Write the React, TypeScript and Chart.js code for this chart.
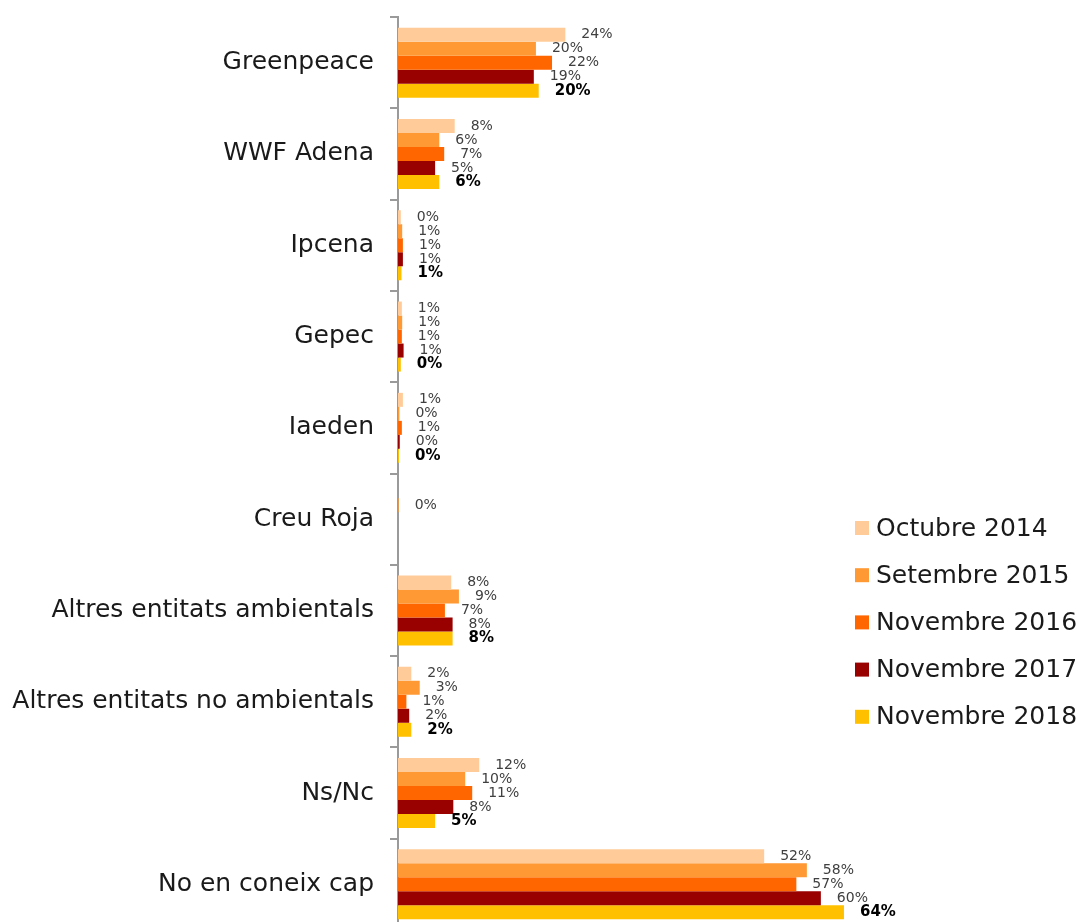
import React, { useEffect, useRef } from "react";
import { Chart, registerables } from "chart.js";

Chart.register(...registerables);

const categories = [
  "Greenpeace",
  "WWF Adena",
  "Ipcena",
  "Gepec",
  "Iaeden",
  "Creu Roja",
  "Altres entitats ambientals",
  "Altres entitats no ambientals",
  "Ns/Nc",
  "No en coneix cap",
];

const seriesNames = [
  "Octubre 2014",
  "Setembre 2015",
  "Novembre 2016",
  "Novembre 2017",
  "Novembre 2018",
];

const seriesColors = ["#FFCC99", "#FF9933", "#FF6600", "#990000", "#FFC000"];

const oct2014 = [23.9, 8.1, 0.4, 0.55, 0.7, null, 7.6, 1.9, 11.6, 52.3];
const set2015 = [19.7, 5.9, 0.6, 0.6, 0.2, 0.1, 8.7, 3.1, 9.6, 58.4];
const nov2016 = [22.0, 6.6, 0.7, 0.55, 0.55, null, 6.7, 1.2, 10.6, 56.9];
const nov2017 = [19.4, 5.3, 0.7, 0.8, 0.25, null, 7.8, 1.6, 7.9, 60.4];
const nov2018 = [20.1, 5.9, 0.5, 0.4, 0.15, null, 7.8, 1.9, 5.3, 63.7];

const seriesValues = [oct2014, set2015, nov2016, nov2017, nov2018];

const FONT = "'DejaVu Sans', sans-serif";

const valueLabels = {
  id: "valueLabels",
  afterDatasetsDraw(chart: any) {
    const ctx = chart.ctx;
    ctx.save();
    ctx.textAlign = "left";
    ctx.textBaseline = "middle";
    chart.data.datasets.forEach((ds: any, di: number) => {
      const meta = chart.getDatasetMeta(di);
      const last = di === chart.data.datasets.length - 1;
      ctx.font = (last ? "bold 15px " : "14px ") + FONT;
      ctx.fillStyle = last ? "#000000" : "#404040";
      meta.data.forEach((el: any, i: number) => {
        const v = ds.data[i];
        if (v === null || v === undefined) return;
        ctx.fillText(Math.round(v) + "%", el.x + 16, el.y);
      });
    });
    ctx.restore();
  },
};

const sideLegend = {
  id: "sideLegend",
  afterDraw(chart: any) {
    const ctx = chart.ctx;
    ctx.save();
    ctx.textAlign = "left";
    ctx.textBaseline = "middle";
    ctx.font = "25px " + FONT;
    seriesNames.forEach((name, i) => {
      const cy = 528 + i * 47.2;
      ctx.fillStyle = seriesColors[i];
      ctx.fillRect(855, cy - 7, 14, 14);
      ctx.fillStyle = "#1a1a1a";
      ctx.fillText(name, 876, cy + 1);
    });
    ctx.restore();
  },
};

export default function App() {
  const ref = useRef<HTMLCanvasElement | null>(null);

  useEffect(() => {
    if (!ref.current) return;
    const chart = new Chart(ref.current, {
      type: "bar",
      data: {
        labels: categories,
        datasets: seriesNames.map((name, i) => ({
          label: name,
          data: seriesValues[i],
          backgroundColor: seriesColors[i],
          borderWidth: 0,
          categoryPercentage: 0.767,
          barPercentage: 1,
        })),
      },
      options: {
        indexAxis: "y",
        responsive: false,
        animation: false,
        devicePixelRatio: 1,
        layout: { padding: { top: 17, right: 8, bottom: 0, left: 0 } },
        plugins: {
          legend: { display: false },
          tooltip: { enabled: false },
        },
        scales: {
          x: {
            display: false,
            min: 0,
            max: 96.7,
            grid: { display: false },
          },
          y: {
            afterFit(scale: any) {
              scale.width = 398;
              scale.paddingTop = 0;
              scale.paddingBottom = 0;
            },
            border: { display: true, color: "#9a9a9a", width: 2 },
            grid: {
              offset: true,
              drawOnChartArea: false,
              drawTicks: true,
              tickLength: 8,
              color: "#9a9a9a",
              lineWidth: 2,
            },
            ticks: {
              padding: 16,
              color: "#1a1a1a",
              font: { family: FONT, size: 25 },
            },
          },
        },
      },
      plugins: [valueLabels, sideLegend],
    } as any);
    return () => chart.destroy();
  }, []);

  return (
    <div
      style={{
        position: "fixed",
        top: 0,
        left: 0,
        width: 1083,
        height: 922,
        overflow: "hidden",
        background: "#ffffff",
      }}
    >
      <canvas ref={ref} width={1083} height={930} style={{ display: "block" }} />
    </div>
  );
}
